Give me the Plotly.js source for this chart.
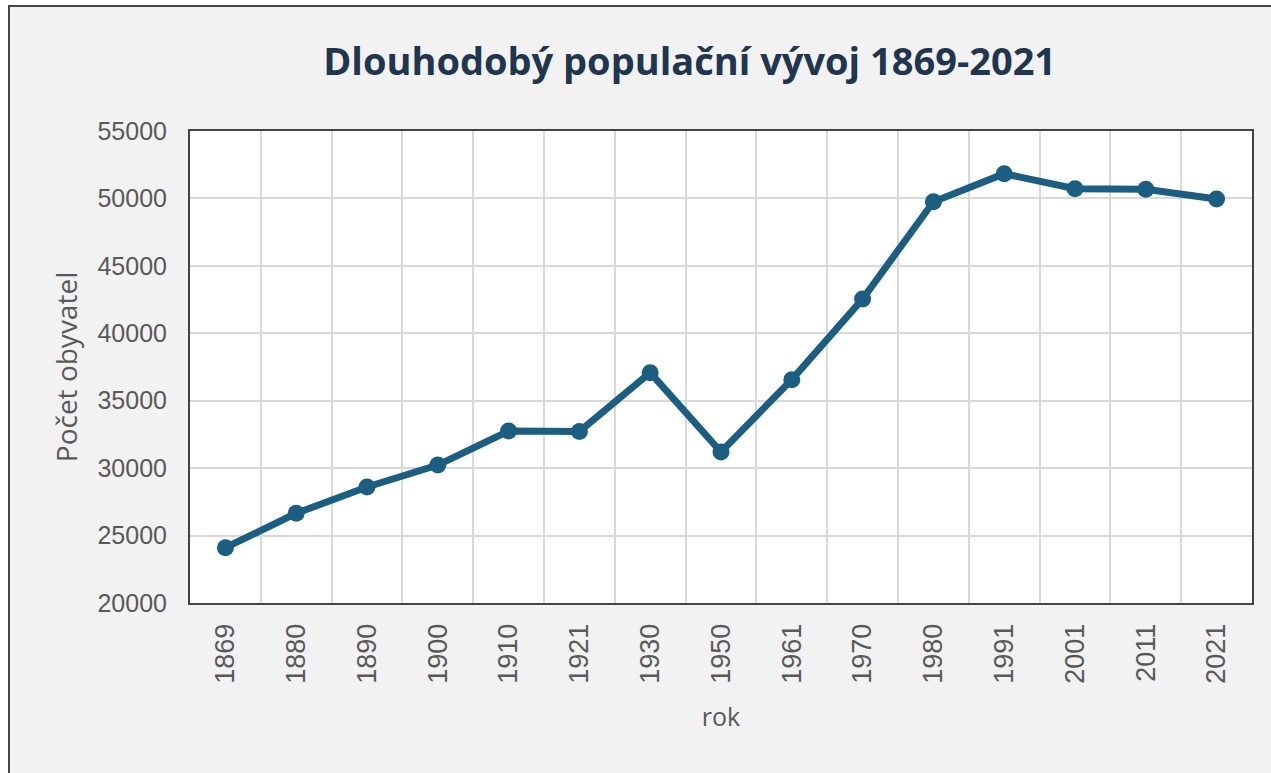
<!DOCTYPE html>
<html>
<head>
<meta charset="utf-8">
<script src="https://cdn.plot.ly/plotly-3.0.1.min.js"></script>
<style>
  html, body { margin: 0; padding: 0; background: #ffffff; width: 1271px; height: 773px; overflow: hidden; }
  #frame { position: absolute; left: 8px; top: 5px; width: 1263px; height: 768px;
           border-left: 2px solid #444444; border-top: 2px solid #444444; background: #f2f2f2; }
  #chart { width: 1261px; height: 766px; }
</style>
</head>
<body>
<div id="frame"><div id="chart"></div></div>
<script>
const years = ["1869","1880","1890","1900","1910","1921","1930","1950","1961","1970","1980","1991","2001","2011","2021"];
const population = [24100, 26650, 28600, 30230, 32750, 32720, 37080, 31200, 36560, 42540, 49750, 51830, 50720, 50680, 49960];
const yTicks = [20000, 25000, 30000, 35000, 40000, 45000, 50000, 55000];

const trace = {
  x: years,
  y: population,
  type: 'scatter',
  mode: 'lines+markers',
  line: { color: '#1b5e82', width: 7 },
  marker: { color: '#1b5e82', size: 17 },
  hoverinfo: 'x+y'
};

const layout = {
  width: 1261,
  height: 766,
  paper_bgcolor: '#f2f2f2',
  plot_bgcolor: '#ffffff',
  margin: { l: 180, r: 19, t: 124, b: 170, pad: 0 },
  showlegend: false,
  title: {
    text: 'Dlouhodobý populační vývoj 1869-2021',
    font: { family: 'Open Sans', size: 38, color: '#1f3550', weight: 700 },
    x: 0.539, xanchor: 'center', y: 0.928, yanchor: 'middle', xref: 'container', yref: 'container'
  },
  xaxis: {
    type: 'category',
    range: [-0.5, years.length - 0.5],
    tickson: 'boundaries',
    ticks: '',
    tickangle: -90,
    tickfont: { family: 'Liberation Sans', size: 27, color: '#595959' },
    showgrid: true, gridcolor: '#d9d9d9', gridwidth: 2,
    showline: true, linecolor: '#444444', linewidth: 2, mirror: true,
    ticklabelstandoff: 8,
    title: { text: 'rok', font: { family: 'Open Sans', size: 25, color: '#595959' }, standoff: 26 },
    fixedrange: true
  },
  yaxis: {
    range: [20000, 55000],
    tickvals: yTicks,
    ticktext: yTicks.map(String),
    tickfont: { family: 'Liberation Sans', size: 25, color: '#595959' },
    showgrid: true, gridcolor: '#d9d9d9', gridwidth: 2,
    showline: true, linecolor: '#444444', linewidth: 2, mirror: true,
    zeroline: false,
    ticks: '', ticklabelstandoff: 16,
    title: { text: 'Počet obyvatel', font: { family: 'Open Sans', size: 28, color: '#595959' }, standoff: 12 },
    fixedrange: true
  }
};

Plotly.newPlot('chart', [trace], layout, { displayModeBar: false });
</script>
</body>
</html>
